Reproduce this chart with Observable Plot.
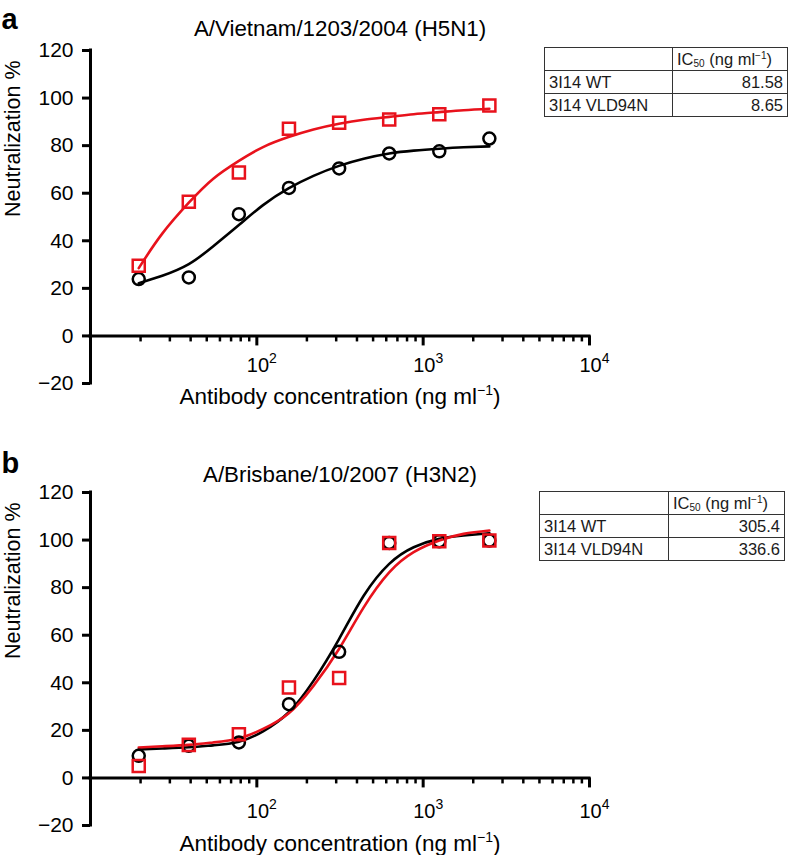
<!DOCTYPE html>
<html><head><meta charset="utf-8">
<script src="https://cdn.jsdelivr.net/npm/d3@7"></script>
<script src="https://cdn.jsdelivr.net/npm/@observablehq/plot@0.6"></script>
<style>
body{margin:0;background:#fff;font-family:"Liberation Sans",Arial,Helvetica,sans-serif;}
#wrap{position:relative;width:788px;height:855px;overflow:hidden;background:#fff}
.panel{position:absolute;left:0}
table.ic{position:absolute;border-collapse:collapse;font-size:16.5px;color:#1a1a1a;table-layout:fixed}
table.ic td{border:1.5px solid #333;padding:0 4px;height:22px;line-height:22px;white-space:nowrap;overflow:hidden}
table.ic td.num{text-align:right}
table.ic sub{font-size:10px;vertical-align:-2px;line-height:0}
table.ic sup{font-size:10px;vertical-align:6px;line-height:0}
</style></head><body><div id="wrap"></div>
<script>
// ---------------- data ----------------
const conc = [19.5, 39, 78, 156, 312.5, 625, 1250, 2500];
// Panel a: A/Vietnam/1203/2004 (H5N1)
const aWT  = [23.9, 24.6, 51.2, 62.2, 70.4, 76.7, 77.6, 83.0];
const aMut = [29.5, 56.4, 68.7, 87.1, 89.6, 91.0, 93.2, 96.9];
// fitted curves
const fitConc = [19.5, 27, 39, 54.5, 78, 109, 155, 219, 312, 439, 625, 877, 1250, 1750, 2500];
const aWTfit  = [22.2, 25.3, 30.2, 37.6, 46.6, 55.0, 62.0, 67.3, 71.5, 74.5, 76.7, 77.9, 78.7, 79.3, 79.7];
const aMutfit = [28.5, 43.0, 56.0, 66.0, 73.6, 79.4, 83.6, 86.8, 89.2, 90.9, 92.1, 93.2, 94.1, 94.9, 95.5];
// Panel b: A/Brisbane/10/2007 (H3N2)
const bWT  = [9.3, 13.5, 14.9, 31.0, 53.0, 98.8, 99.5, 99.8];
const bMut = [5.0, 13.9, 18.4, 38.0, 42.0, 98.8, 99.5, 99.8];
const bWTfit  = [12.0, 12.4, 12.9, 13.7, 15.2, 19.6, 27.5, 40.8, 58.4, 76.6, 90.0, 97.0, 100.5, 101.9, 102.9];
const bMutfit = [12.8, 13.3, 13.9, 14.9, 16.6, 20.6, 27.1, 38.7, 54.2, 71.7, 86.4, 94.9, 99.8, 102.6, 104.0];

const yTicks = [-20, 0, 20, 40, 60, 80, 100, 120];
const xMajor = [100, 1000, 10000];
const xMajorBase = ["10", "10", "10"];
const xMajorExp = ["2", "3", "4"];
const xMinor = [20, 30, 40, 50, 60, 70, 80, 90, 200, 300, 400, 500, 600, 700, 800, 900, 2000, 3000, 4000, 5000, 6000, 7000, 8000, 9000];

const titles = ["A/Vietnam/1203/2004 (H5N1)", "A/Brisbane/10/2007 (H3N2)"];
const letters = ["a", "b"];
const yLabel = "Neutralization %";
const xLabel = "Antibody concentration (ng ml";
const xLabelExp = "−1";

const tableHeader = ["", "IC<sub>50</sub> (ng ml<sup>−1</sup>)"];
const antibodies = ["3I14 WT", "3I14 VLD94N"];
const aIC50 = ["81.58", "8.65"];
const bIC50 = ["305.4", "336.6"];

const RED = "#e8121c";
const FONT = "'Liberation Sans', Arial, Helvetica, sans-serif";

function panel(o) {
  return Plot.plot({
    width: 788, height: o.height,
    marginLeft: 90, marginRight: 199, marginTop: o.marginTop, marginBottom: o.marginBottom,
    x: {type: "log", domain: [10, 10000], axis: null},
    y: {domain: [-20, 120]},
    style: {fontFamily: FONT, fontSize: "21px", color: "black", background: "transparent", overflow: "visible"},
    marks: [
      Plot.ruleX([10], {strokeWidth: 3, strokeLinecap: "square"}),
      Plot.axisY(yTicks, {anchor: "left", tickSize: 8, strokeWidth: 3, tickPadding: 9, fontSize: 21, label: null}),
      Plot.ruleY([0], {x1: 10, x2: 10000, strokeWidth: 3, strokeLinecap: "square"}),
      Plot.ruleX(xMinor, {x: d => d, y1: 0, y2: 0, insetBottom: -6, strokeWidth: 2.5}),
      Plot.ruleX(xMajor, {x: d => d, y1: 0, y2: 0, insetBottom: -10, strokeWidth: 3}),
      Plot.text(xMajor, {x: d => d, y: 0, text: (d, i) => xMajorBase[i] + "^" + xMajorExp[i], dy: o.tickDy, dx: 5, lineAnchor: "bottom", fontSize: 20}),
      Plot.line(fitConc, {x: fitConc, y: o.wtFit, curve: "natural", stroke: "black", strokeWidth: 2.6}),
      Plot.line(fitConc, {x: fitConc, y: o.mutFit, curve: "natural", stroke: RED, strokeWidth: 2.6}),
      Plot.dot(conc, {x: conc, y: o.wt, r: 6, stroke: "black", strokeWidth: 2.5, fill: "none"}),
      Plot.dot(conc, {x: conc, y: o.mut, r: 6.8, symbol: "square", stroke: RED, strokeWidth: 2.5, fill: "none"}),
      Plot.text([o.title], {frameAnchor: "top", dy: o.titleDy, lineAnchor: "bottom", fontSize: 22.3}),
      Plot.text([o.letter], {frameAnchor: "top-left", dx: -89, dy: o.letterDy, textAnchor: "start", lineAnchor: "bottom", fontSize: 29, fontWeight: "bold"}),
      Plot.text([yLabel], {frameAnchor: "left", dx: -77, rotate: -90, fontSize: 21.5}),
      Plot.text([xLabel + "^" + xLabelExp], {frameAnchor: "bottom", dy: o.xLabelDy, lineAnchor: "bottom", fontSize: 22.5})
    ]
  });
}

// turn "base^exp" texts into base + superscript tspans
function superscripts(svg) {
  d3.select(svg).selectAll("text").each(function () {
    const t = this.textContent;
    if (!t.includes("^")) return;
    const [base, exp] = t.split("^");
    const sel = d3.select(this);
    const fs = parseFloat(sel.attr("font-size")) || 21;
    sel.text(null);
    sel.append("tspan").text(base);
    sel.append("tspan").attr("font-size", Math.round(fs * 0.66)).attr("dy", -fs * 0.42).text(exp);
    if (base.includes("(")) sel.append("tspan").attr("dy", fs * 0.42).text(")");
  });
  return svg;
}

function table(values, left, top, w1, w2) {
  const t = document.createElement("table");
  t.className = "ic";
  t.style.left = left + "px";
  t.style.top = top + "px";
  t.style.width = (w1 + w2) + "px";
  let html = `<colgroup><col style="width:${w1}px"><col style="width:${w2}px"></colgroup>`;
  html += `<tr><td>${tableHeader[0]}</td><td>${tableHeader[1]}</td></tr>`;
  antibodies.forEach((a, i) => { html += `<tr><td>${a}</td><td class="num">${values[i]}</td></tr>`; });
  t.innerHTML = html;
  return t;
}

const wrap = document.getElementById("wrap");
const pa = superscripts(panel({height: 427, marginTop: 50, marginBottom: 44, wt: aWT, mut: aMut, wtFit: aWTfit, mutFit: aMutfit,
  title: titles[0], letter: letters[0], titleDy: -15, letterDy: -22, tickDy: 36, xLabelDy: 20}));
pa.classList.add("panel"); pa.style.top = "0px";
const pb = superscripts(panel({height: 428, marginTop: 65, marginBottom: 30, wt: bWT, mut: bMut, wtFit: bWTfit, mutFit: bMutfit,
  title: titles[1], letter: letters[1], titleDy: -11, letterDy: -20, tickDy: 40, xLabelDy: 25}));
pb.classList.add("panel"); pb.style.top = "427px";
wrap.appendChild(pa);
wrap.appendChild(pb);
wrap.appendChild(table(aIC50, 544, 47, 128, 115));
wrap.appendChild(table(bIC50, 539, 491, 129, 116));
</script>
</body></html>
